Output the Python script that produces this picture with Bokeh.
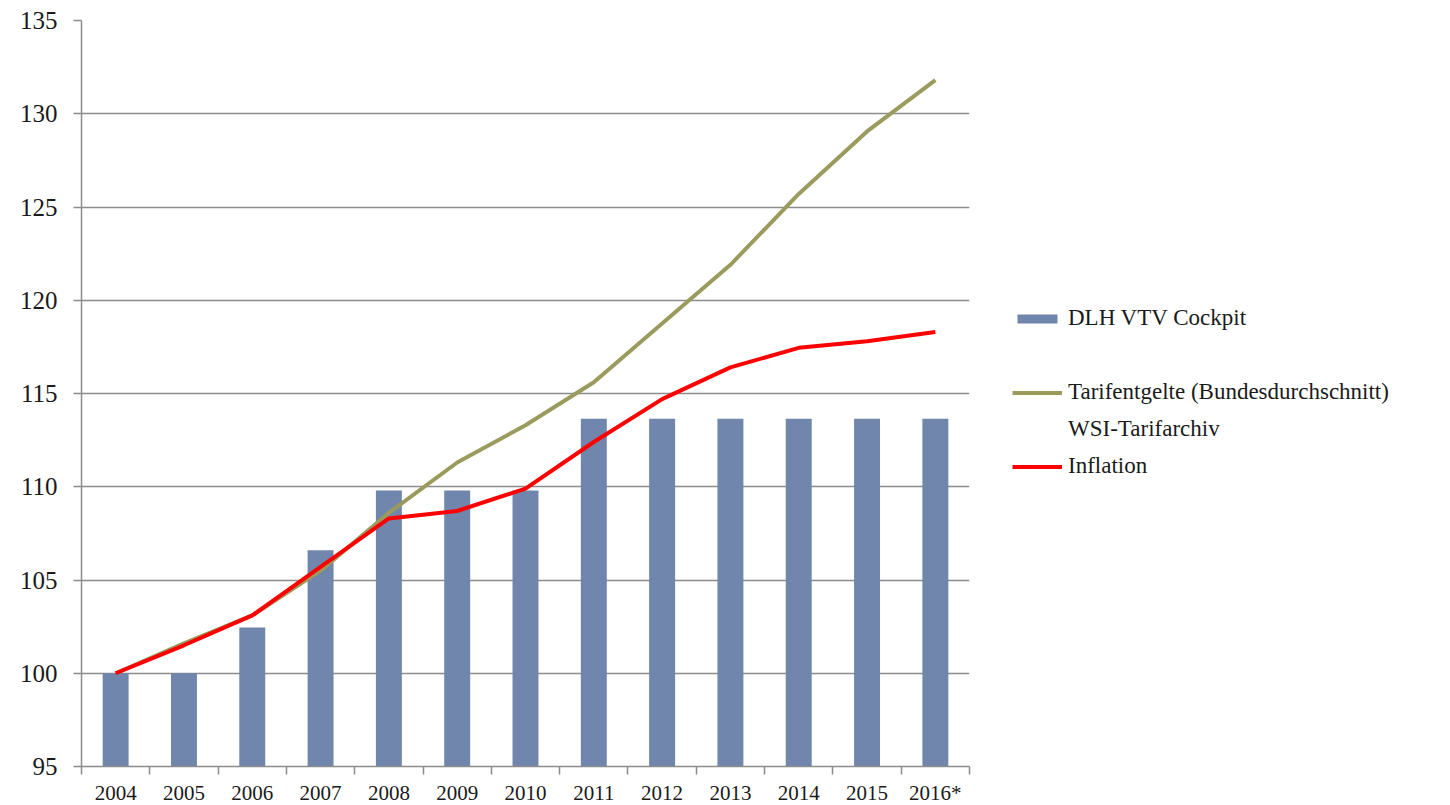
from bokeh.plotting import figure
from bokeh.models import (FixedTicker, Legend, LegendItem, ColumnDataSource, Range1d)
from bokeh.embed import file_html
from bokeh.resources import INLINE

years = ["2004", "2005", "2006", "2007", "2008", "2009", "2010", "2011",
         "2012", "2013", "2014", "2015", "2016*"]
dlh_vtv = [100.0, 100.0, 102.45, 106.6, 109.8, 109.8, 109.8, 113.65,
           113.65, 113.65, 113.65, 113.65, 113.65]
tarif = [100.0, 101.6, 103.1, 105.5, 108.6, 111.3, 113.3, 115.6,
         118.75, 121.9, 125.7, 129.05, 131.8]
inflation = [100.0, 101.5, 103.1, 105.7, 108.3, 108.7, 109.9, 112.4,
             114.7, 116.4, 117.45, 117.8, 118.3]
y_ticks = [95, 100, 105, 110, 115, 120, 125, 130, 135]

FONT = "Liberation Serif"
GRID = "#8c8c8c"

xc = [i + 0.5 for i in range(len(years))]
src = ColumnDataSource(dict(x=xc, dlh=dlh_vtv, tarif=tarif, infl=inflation))

p = figure(frame_width=888, frame_height=746, output_backend="svg", toolbar_location=None,
           x_range=Range1d(0, len(years)), y_range=Range1d(95, 135),
           min_border_left=81, min_border_right=0, min_border_top=20,
           min_border_bottom=35)
p.outline_line_color = None
p.background_fill_color = "white"
p.border_fill_color = "white"

bars = p.vbar(x="x", top="dlh", bottom=95, width=0.38, source=src,
              fill_color="#7086ac", line_color=None)
l_tarif = p.line(x="x", y="tarif", source=src, line_color="#9b9b5e", line_width=4)
l_infl = p.line(x="x", y="infl", source=src, line_color="#ff0000", line_width=4)
dummy = p.line(x=[0.5], y=[100], line_alpha=0)

# axes
xa = p.xaxis[0]
xa.ticker = FixedTicker(ticks=xc, minor_ticks=list(range(len(years) + 1)))
xa.major_label_overrides = {x: y for x, y in zip(xc, years)}
xa.major_tick_out = 0
xa.major_tick_in = 0
xa.minor_tick_out = 8
xa.minor_tick_in = 0
xa.minor_tick_line_color = GRID
xa.minor_tick_line_width = 1.5
xa.axis_line_color = GRID
xa.axis_line_width = 1.5
xa.major_label_text_font = FONT
xa.major_label_text_font_size = "21px"
xa.major_label_text_color = "#1a1a1a"
xa.major_label_standoff = 6

ya = p.yaxis[0]
ya.ticker = FixedTicker(ticks=y_ticks)
ya.minor_tick_line_color = None
ya.major_tick_out = 8
ya.major_tick_in = 0
ya.major_tick_line_color = GRID
ya.major_tick_line_width = 1.5
ya.axis_line_color = GRID
ya.axis_line_width = 1.5
ya.major_label_text_font = FONT
ya.major_label_text_font_size = "25px"
ya.major_label_text_color = "#1a1a1a"
ya.major_label_standoff = 16

p.xgrid.grid_line_color = None
p.ygrid.ticker = FixedTicker(ticks=y_ticks)
p.ygrid.grid_line_color = GRID
p.ygrid.grid_line_width = 1.5

items = [
    LegendItem(label="DLH VTV Cockpit", renderers=[bars]),
    LegendItem(label=" ", renderers=[dummy]),
    LegendItem(label="Tarifentgelte (Bundesdurchschnitt)", renderers=[l_tarif]),
    LegendItem(label="WSI-Tarifarchiv", renderers=[dummy]),
    LegendItem(label="Inflation", renderers=[l_infl]),
]
legend = Legend(items=items, location=(43, 287), orientation="vertical",
                padding=0, margin=0, spacing=11, label_standoff=6,
                glyph_width=50, glyph_height=11, label_height=26,
                border_line_color=None, background_fill_alpha=0,
                label_text_font=FONT, label_text_font_size="23px",
                label_text_color="#1a1a1a", label_text_baseline="middle")
p.add_layout(legend, "right")

open("out.html", "w").write(file_html(p, INLINE))
